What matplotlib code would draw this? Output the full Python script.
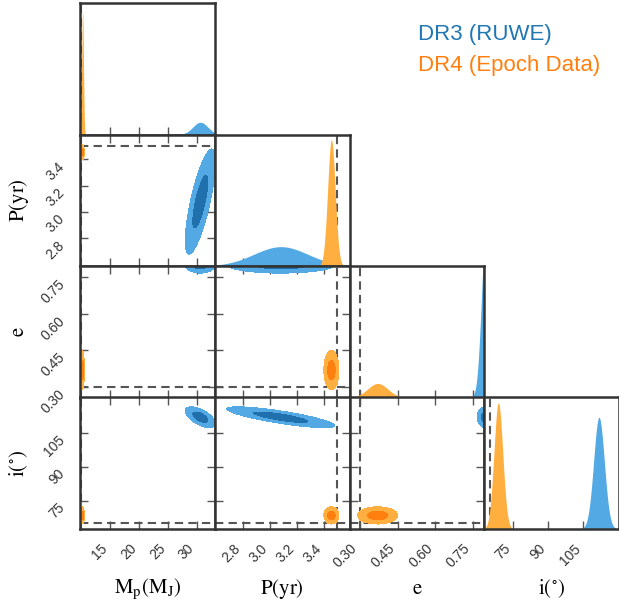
import numpy as np
import matplotlib
matplotlib.use("Agg")
import matplotlib.pyplot as plt

plt.rcParams["mathtext.fontset"] = "stix"
plt.rcParams["font.family"] = ["Liberation Sans", "DejaVu Sans"]

# parameters of the corner plot
labels = [r"$\mathrm{M_p(M_J)}$", r"$\mathrm{P(yr)}$", r"$\mathrm{e}$", r"$\mathrm{i(^{\circ})}$"]
limits = [(9.8, 33.1), (2.59, 3.59), (0.258, 0.795), (62.5, 120.5)]
ticks = [[15, 20, 25, 30], [2.8, 3.0, 3.2, 3.4], [0.30, 0.45, 0.60, 0.75], [75, 90, 105]]
tick_fmt = ["%d", "%.1f", "%.2f", "%d"]
truths = [10.0, 3.5, 0.30, 65.0]

# DR3 (RUWE) posterior
dr3_mean = [30.6, 3.08, 0.800, 111.8]
dr3_sigma = [1.3, 0.20, 0.017, 2.3]
dr3_peak = [0.093, 0.147, 1.24, 0.85]
dr3_corr = {(0, 1): 0.75, (0, 3): -0.6, (1, 3): -0.8}

# DR4 (epoch data) posterior
dr4_mean = [10.25, 3.455, 0.37, 68.5]
dr4_sigma = [0.15, 0.028, 0.04, 1.9]
dr4_peak = [0.94, 0.96, 0.107, 0.96]
dr4_corr = {}

blue = ["#52a9e4", "#1f70ad"]
orange = ["#ffae40", "#ff800e"]

W, H = 619, 608
x0, y0, cw, rh = 80, 3, 134.8, 131.5
fig = plt.figure(figsize=(W / 100, H / 100), dpi=100)


def contour2d(ax, mean, sigma, corr, cx, cy, cols):
    gx = np.linspace(limits[cx][0], limits[cx][1], 500)
    gy = np.linspace(limits[cy][0], limits[cy][1], 500)
    X, Y = np.meshgrid(gx, gy)
    u = (X - mean[cx]) / sigma[cx]
    v = (Y - mean[cy]) / sigma[cy]
    rho = corr.get((cx, cy), 0.0)
    m2 = (u * u - 2 * rho * u * v + v * v) / (1 - rho * rho)
    Z = np.exp(-0.5 * m2)
    ax.contourf(X, Y, Z, levels=[np.exp(-2), np.exp(-0.5), 1.01], colors=cols, zorder=3)


def hist1d(ax, mean, sigma, peak, c, col):
    x = np.linspace(limits[c][0], limits[c][1], 1000)
    y = peak * np.exp(-0.5 * ((x - mean[c]) / sigma[c]) ** 2)
    ax.fill_between(x, 0, y, color=col, lw=0, zorder=3)


for r in range(4):
    for c in range(r + 1):
        left = (x0 + c * cw) / W
        bottom = 1 - (y0 + (r + 1) * rh) / H
        ax = fig.add_axes([left, bottom, cw / W, rh / H])
        ax.set_xlim(limits[c])
        ax.set_xticks(ticks[c])
        ax.set_xticklabels([tick_fmt[c] % t for t in ticks[c]])
        for s in ax.spines.values():
            s.set_linewidth(1.8)
            s.set_color("#333333")
            s.set_zorder(5)
        ax.tick_params(direction="in", length=6, width=1, color="#555555",
                       labelsize=10, labelcolor="#333333", pad=9)
        if r == c:
            hist1d(ax, dr3_mean, dr3_sigma, dr3_peak[c], c, blue[0])
            hist1d(ax, dr4_mean, dr4_sigma, dr4_peak[c], c, orange[0])
            ax.axvline(truths[c], color="#555555", lw=1.5, ls=(0, (4, 2.5)), zorder=2)
            ax.set_ylim(0, 1.0)
            ax.set_yticks([])
            ax.tick_params(top=False, left=False, right=False)
        else:
            contour2d(ax, dr3_mean, dr3_sigma, dr3_corr, c, r, blue)
            contour2d(ax, dr4_mean, dr4_sigma, dr4_corr, c, r, orange)
            ax.axvline(truths[c], color="#555555", lw=1.5, ls=(0, (4, 2.5)), zorder=2)
            ax.axhline(truths[r], color="#555555", lw=1.5, ls=(0, (4, 2.5)), zorder=2)
            ax.set_ylim(limits[r])
            ax.set_yticks(ticks[r])
            ax.set_yticklabels([tick_fmt[r] % t for t in ticks[r]])
            ax.tick_params(top=True, right=True)
        ax.tick_params(labelbottom=(r == 3), labelleft=(c == 0 and r > 0))
        if r == 3:
            for t in ax.get_xticklabels():
                t.set_rotation(45)
                t.set_ha("right")
                t.set_va("top")
            ax.set_xlabel(labels[c], fontsize=15, va="center")
            ax.xaxis.set_label_coords(0.5, -0.456)
        if c == 0 and r > 0:
            for t in ax.get_yticklabels():
                t.set_rotation(45)
                t.set_ha("right")
                t.set_va("top")
            ax.set_ylabel(labels[r], fontsize=15, va="center")
            ax.yaxis.set_label_coords(-0.453, 0.5)

fig.text(418 / W, 1 - 40 / H, "DR3 (RUWE)", fontsize=16, color="#1f77b4", va="baseline")
fig.text(418 / W, 1 - 71 / H, "DR4 (Epoch Data)", fontsize=16, color="#ff7f0e", va="baseline")

fig.savefig("out.png", dpi=100)
